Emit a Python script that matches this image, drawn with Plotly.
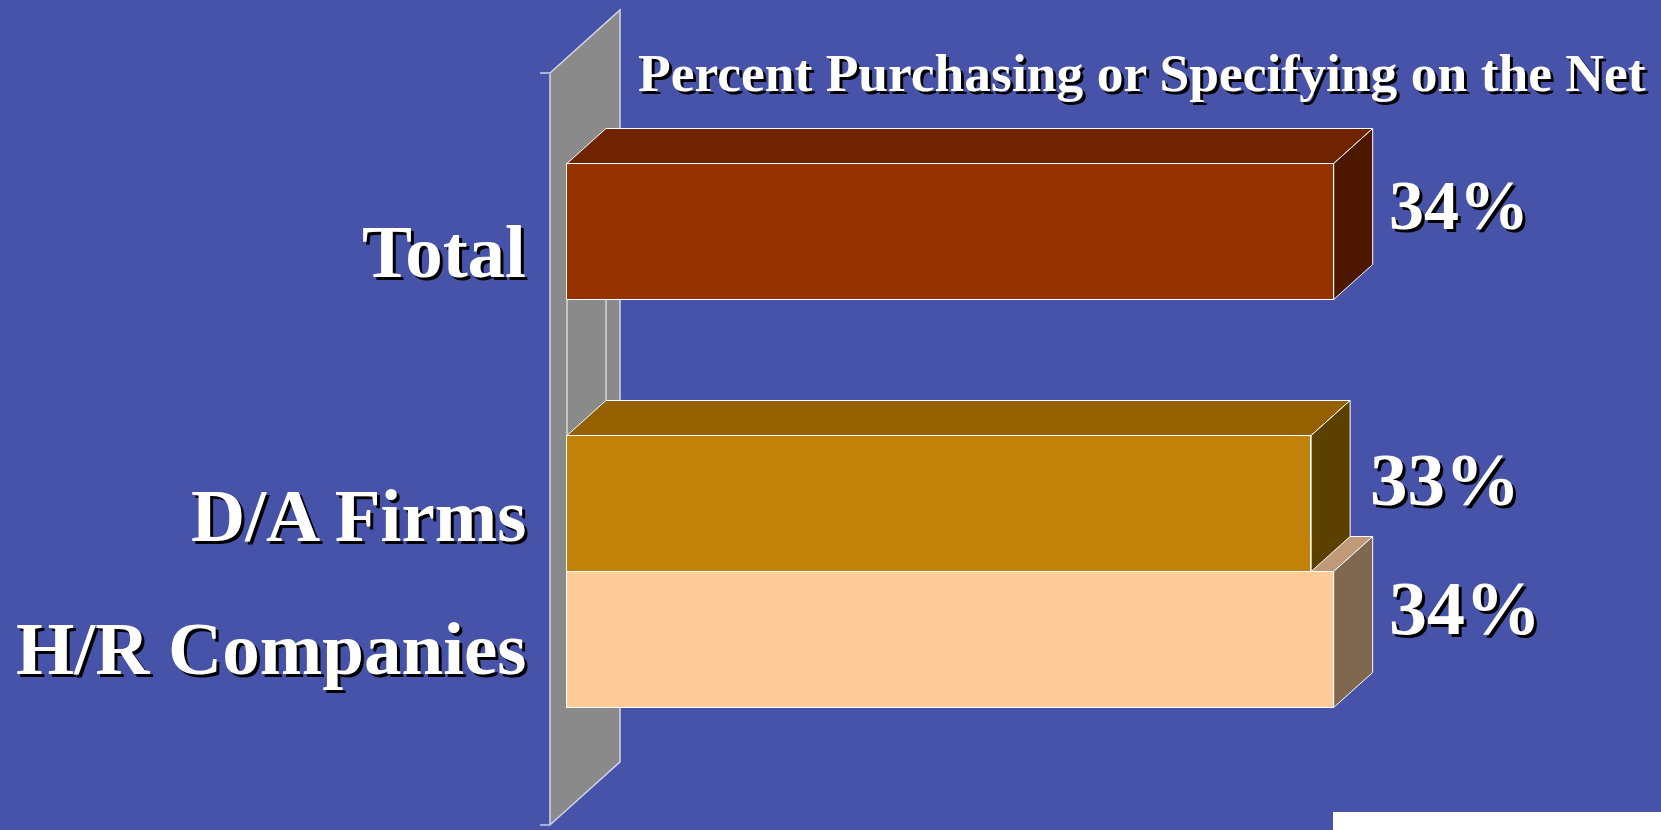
import plotly.graph_objects as go

# ---- data -------------------------------------------------------------
categories = ["Total", "D/A Firms", "H/R Companies"]
percent = [34, 33, 34]
# vertical slot order; the blank slot opens a gap under "Total"
row_order = ["Total", " ", "D/A Firms", "H/R Companies"]
title_text = "Percent Purchasing or Specifying on the Net"

# ---- styling ----------------------------------------------------------
BG = "#4653A8"
FRONT = {"Total": "#963100", "D/A Firms": "#C2820A", "H/R Companies": "#FFCC99"}
TOP = {"Total": "#702300", "D/A Firms": "#946000", "H/R Companies": "#C09A78"}
SIDE = {"Total": "#4E1800", "D/A Firms": "#5C4000", "H/R Companies": "#806850"}
WALL = "#8A8A8A"
WALL_EDGE = "#D4D6EA"
SERIF = "Liberation Serif, Times New Roman, serif"

W, H = 1661, 830
X0_PX = 567          # pixel column of 0 % on the bars' front plane
PX_PER_PCT = 22.55
ROW0_PX = 231.5      # pixel row of the first slot centre
PX_PER_ROW = 136


def dx(px):
    return px / PX_PER_PCT


def dy(px):
    return px / PX_PER_ROW


x_range = [dx(-X0_PX), dx(W - X0_PX)]
y_range = [dy(H - ROW0_PX), dy(-ROW0_PX)]   # reversed: first slot on top

# oblique projection of the depth axis (pixels)
BAR_DEPTH = (39, -35)
WALL_FRONT = (-17, 15.3)
WALL_BACK = (53, -47.7)
WALL_ROWS = (-1.278, 4.251)

rows = {c: row_order.index(c) for c in row_order}


def path(points):
    return "M " + " L ".join(f"{x:.4f},{y:.4f}" for x, y in points) + " Z"


shapes = []

# back wall standing on the 0 % line
wt, wb = WALL_ROWS
fx, fy = dx(WALL_FRONT[0]), dy(WALL_FRONT[1])
bx, by = dx(WALL_BACK[0]), dy(WALL_BACK[1])
shapes.append(dict(type="path", xref="x", yref="y", layer="below",
                   path=path([(fx, wt + fy), (bx, wt + by), (bx, wb + by), (fx, wb + fy)]),
                   fillcolor=WALL, line=dict(color=WALL_EDGE, width=1.5)))
# axis end ticks on the wall's front edge
for r in WALL_ROWS:
    shapes.append(dict(type="line", xref="x", yref="y", layer="below",
                       x0=fx - dx(10), x1=fx, y0=r + fy, y1=r + fy,
                       line=dict(color="#A9B0DC", width=2)))

ddx, ddy = dx(BAR_DEPTH[0]), dy(BAR_DEPTH[1])

# footprint lines on the wall in the gap between the bar groups
gap_top = rows["Total"] + 0.5
gap_bot = rows["D/A Firms"] - 0.5
for ox, oy in [(0, 0), (ddx, ddy)]:
    shapes.append(dict(type="line", xref="x", yref="y", layer="below",
                       x0=ox, x1=ox, y0=gap_top + oy, y1=gap_bot + oy,
                       line=dict(color="white", width=1)))

# top and side faces; lower bars first so upper bars overlap them
draw_order = ["Total", "H/R Companies", "D/A Firms"]
for cat in draw_order:
    v = percent[categories.index(cat)]
    r = rows[cat]
    y0, y1 = r - 0.5, r + 0.5
    shapes.append(dict(type="path", xref="x", yref="y", layer="below",
                       path=path([(0, y0), (v, y0), (v + ddx, y0 + ddy), (ddx, y0 + ddy)]),
                       fillcolor=TOP[cat], line=dict(color="white", width=1)))
    shapes.append(dict(type="path", xref="x", yref="y", layer="below",
                       path=path([(v, y0), (v + ddx, y0 + ddy), (v + ddx, y1 + ddy), (v, y1)]),
                       fillcolor=SIDE[cat], line=dict(color="white", width=1)))

# stray white strip in the lower right corner
shapes.append(dict(type="rect", xref="paper", yref="paper", layer="above",
                   x0=1333 / W, x1=1, y0=0, y1=18 / H,
                   fillcolor="white", line=dict(width=0)))

fig = go.Figure()
fig.add_trace(go.Bar(
    orientation="h",
    x=percent,
    y=[rows[c] for c in categories],
    width=1,
    marker=dict(color=[FRONT[c] for c in categories],
                line=dict(color="white", width=1)),
    hoverinfo="skip",
))


annotations = []


def shadowed(text, size, **kw):
    """White bold text with a black drop shadow."""
    xs, ys = kw.pop("xshift", 0), kw.pop("yshift", 0)
    base = dict(showarrow=False, **kw)
    annotations.append(dict(base, text=f"<b>{text}</b>", xshift=xs + 3, yshift=ys - 3,
                            font=dict(family=SERIF, size=size, color="black")))
    annotations.append(dict(base, text=f"<b>{text}</b>", xshift=xs, yshift=ys,
                            font=dict(family=SERIF, size=size, color="white")))


# category labels
label_nudge = {"Total": -20, "D/A Firms": -12, "H/R Companies": -9}
for cat in categories:
    shadowed(cat, 75, xref="paper", yref="y", x=528 / W, y=rows[cat],
             xanchor="right", yanchor="middle", yshift=label_nudge[cat])

# value labels beyond each bar's end
value_style = {"Total": (70, 53, 26), "D/A Firms": (75, 57, 24), "H/R Companies": (76, 53, 31.5)}
for cat, v in zip(categories, percent):
    size, xs, ys = value_style[cat]
    shadowed(f"{v}%", size, xref="x", yref="y", x=v, y=rows[cat],
             xanchor="left", yanchor="middle", xshift=xs, yshift=ys)

# chart heading
shadowed(title_text, 53.5, xref="paper", yref="paper", x=636 / W, y=1 - 73 / H,
         xanchor="left", yanchor="middle")

fig.update_layout(
    width=W, height=H,
    margin=dict(l=0, r=0, t=0, b=0),
    paper_bgcolor=BG, plot_bgcolor="rgba(0,0,0,0)",
    showlegend=False,
    xaxis=dict(range=x_range, visible=False, fixedrange=True),
    yaxis=dict(range=y_range, visible=False, fixedrange=True),
    shapes=shapes,
    annotations=annotations,
    bargap=0,
)

fig.write_html("out.html")
